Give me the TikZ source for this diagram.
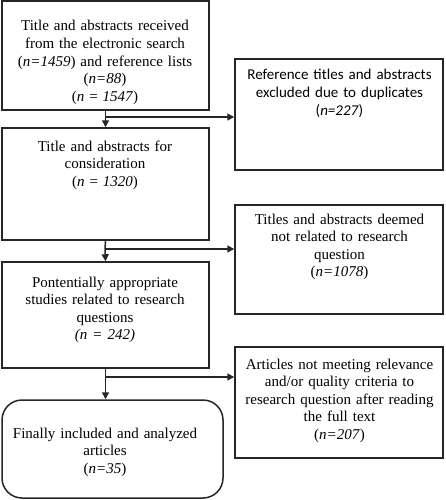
\documentclass[tikz,border=0pt]{standalone}
\usepackage{fontspec}
\setmainfont{Liberation Serif}
\newfontfamily\calfont{Carlito}
\usetikzlibrary{arrows.meta}
\begin{document}
\begin{tikzpicture}[x=1pt,y=-1pt,
  box/.style={draw=black!85, line width=1.5pt, rectangle, inner sep=0pt},
  txt/.style={inner sep=0pt, text width=220pt, align=center, anchor=base,
    font=\fontsize{15}{17.6}\selectfont},
  flow/.style={draw=black!85, line width=1.5pt, -{Triangle[length=7pt,width=7pt]}},
  link/.style={draw=black!85, line width=1.5pt}]
\useasboundingbox (0,0) rectangle (445,500);
% left column
\node[box, minimum width=207pt, minimum height=109pt] (b1) at (105.5,55.5) {};
\node[box, minimum width=207pt, minimum height=112pt] (b2) at (105.5,184) {};
\node[box, minimum width=207pt, minimum height=106pt] (b3) at (105.5,315) {};
\node[box, rounded corners=20pt, minimum width=221pt, minimum height=98pt] (b4) at (112.5,449) {};
% right column
\node[box, minimum width=208pt, minimum height=111pt] (r1) at (339,114.5) {};
\node[box, minimum width=208pt, minimum height=109pt] (r2) at (339,259.5) {};
\node[box, minimum width=208pt, minimum height=111pt] (r3) at (339,402.5) {};
% texts
\node[txt] (t1) at (105,31) {Title and abstracts received\\from the electronic search\\(\textit{n=1459}) and reference lists\\(\textit{n=88})\\(\textit{n} = \textit{1547})};
\node[txt] (t2) at (105,151) {Title and abstracts for\\consideration\\(\textit{n} = \textit{1320})};
\node[txt] (t3) at (105,287) {Pontentially appropriate\\studies related to research\\questions\\\textit{(n = 242)}};
\node[txt] (t4) at (105,438) {Finally included and analyzed\\articles\\(\textit{n=35})};
\node[txt, font=\calfont\fontsize{15}{17.6}\selectfont] (s1) at (339.5,80) {Reference titles and abstracts\\excluded due to duplicates\\(\textit{n=227})};
\node[txt] (s2) at (339.5,224) {Titles and abstracts deemed\\not related to research\\question\\(\textit{n=1078})};
\node[txt] (s3) at (339.5,369) {Articles not meeting relevance\\and/or quality criteria to\\research question after reading\\the full text\\(\textit{n=207})};
% connectors
\coordinate (j1) at (105,117);
\coordinate (j2) at (105,249);
\coordinate (j3) at (105,377);
\draw[flow] (b1.south) -- (b2.north);
\draw[flow] (j1) -- (j1 -| r1.west);
\draw[link] (b2.south) -- (j2);
\draw[flow] (j2) -- (b3.north);
\draw[flow] (j2) -- (j2 -| r2.west);
\draw[flow] (b3.south) -- (b4.north -| b3.south);
\draw[flow] (j3) -- (j3 -| r3.west);
\end{tikzpicture}
\end{document}
